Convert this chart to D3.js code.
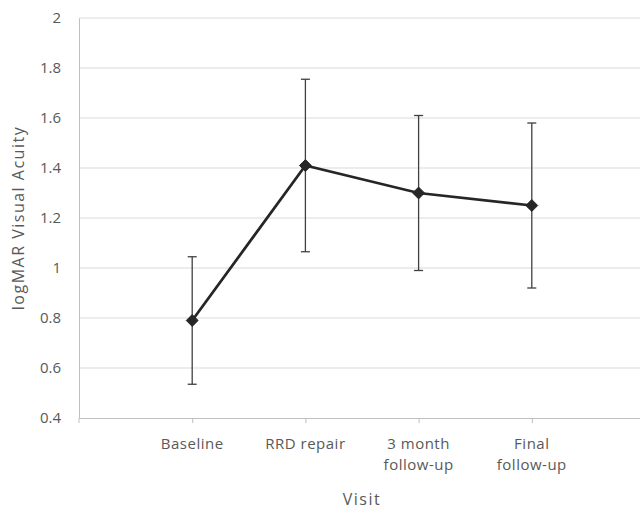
<!DOCTYPE html>
<html>
<head>
<meta charset="utf-8">
<script src="https://cdn.jsdelivr.net/npm/d3@7"></script>
<style>
	body { margin: 0; background: #fff; }
	text { font-family: "Open Sans", sans-serif; fill: #595959; }
</style>
</head>
<body>
<div id="idChart"></div>
<script>
var aVisits = [["Baseline"], ["RRD repair"], ["3 month", "follow-up"], ["Final", "follow-up"]];
var aMeans = [0.79, 1.41, 1.30, 1.25];
var aErrors = [0.255, 0.345, 0.31, 0.33];
var aYTicks = [0.4, 0.6, 0.8, 1, 1.2, 1.4, 1.6, 1.8, 2];

function DrawChart()
{
	var iWidth = 640;
	var iHeight = 509;
	var iLeft = 79, iRight = 645, iTop = 18, iBottom = 418;

	var aKeys = aVisits.map(function(a) { return a.join(" "); });

	var mySvg = d3.select("#idChart").append("svg")
		.attr("width", iWidth)
		.attr("height", iHeight);

	var xScale = d3.scalePoint()
		.domain(aKeys)
		.range([iLeft, iRight])
		.padding(1);

	var yScale = d3.scaleLinear()
		.domain([0.4, 2])
		.range([iBottom, iTop]);

	// gridlines
	mySvg.append("g").selectAll("line")
		.data(aYTicks.slice(1))
		.enter().append("line")
			.attr("x1", iLeft).attr("x2", iRight)
			.attr("y1", function(d) { return yScale(d); })
			.attr("y2", function(d) { return yScale(d); })
			.attr("stroke", "#d9d9d9")
			.attr("stroke-width", 1);

	// y axis
	var yAxis = mySvg.append("g")
		.attr("transform", "translate(" + iLeft + ",0)")
		.call(d3.axisLeft(yScale).tickValues(aYTicks).tickSize(0).tickPadding(18)
			.tickFormat(function(d) { return String(Math.round(d * 10) / 10); }));
	yAxis.select(".domain").attr("stroke", "#bfbfbf");
	yAxis.selectAll("text").style("font-size", "15px").attr("fill", "#595959");

	// x axis
	var xAxis = mySvg.append("g")
		.attr("transform", "translate(0," + iBottom + ")")
		.call(d3.axisBottom(xScale).tickSizeInner(5).tickSizeOuter(0).tickFormat(""));
	xAxis.select(".domain").attr("stroke", "#bfbfbf");
	xAxis.selectAll(".tick line").attr("stroke", "#bfbfbf");
	xAxis.append("line")
		.attr("x1", iLeft).attr("x2", iLeft).attr("y1", 0).attr("y2", 5)
		.attr("stroke", "#bfbfbf");

	var xLabels = mySvg.append("g").selectAll("text")
		.data(aVisits)
		.enter().append("text")
			.attr("x", function(d) { return xScale(d.join(" ")); })
			.attr("y", 449)
			.attr("text-anchor", "middle")
			.style("font-size", "15px")
			.style("letter-spacing", "0.5px");
	xLabels.selectAll("tspan")
		.data(function(d) { return d; })
		.enter().append("tspan")
			.attr("x", function() { return d3.select(this.parentNode).attr("x"); })
			.attr("dy", function(d, i) { return i ? 21 : 0; })
			.text(function(d) { return d; });

	// titles
	mySvg.append("text")
		.attr("x", (iLeft + iRight) / 2)
		.attr("y", 505)
		.attr("text-anchor", "middle")
		.style("font-size", "16px")
		.style("letter-spacing", "1.5px")
		.text("Visit");

	mySvg.append("text")
		.attr("transform", "translate(24," + (iTop + iBottom) / 2 + ") rotate(-90)")
		.attr("text-anchor", "middle")
		.style("font-size", "16px")
		.style("letter-spacing", "1.5px")
		.text("logMAR Visual Acuity");

	// error bars
	var myBars = mySvg.append("g").selectAll("g")
		.data(aMeans)
		.enter().append("g")
			.attr("stroke", "#404040")
			.attr("stroke-width", 1.3);
	myBars.append("line")
		.attr("x1", function(d, i) { return xScale(aKeys[i]); })
		.attr("x2", function(d, i) { return xScale(aKeys[i]); })
		.attr("y1", function(d, i) { return yScale(d - aErrors[i]); })
		.attr("y2", function(d, i) { return yScale(d + aErrors[i]); });
	[-1, 1].forEach(function(iSign) {
		myBars.append("line")
			.attr("x1", function(d, i) { return xScale(aKeys[i]) - 4.5; })
			.attr("x2", function(d, i) { return xScale(aKeys[i]) + 4.5; })
			.attr("y1", function(d, i) { return yScale(d + iSign * aErrors[i]); })
			.attr("y2", function(d, i) { return yScale(d + iSign * aErrors[i]); });
	});

	// mean line
	var myLine = d3.line()
		.x(function(d, i) { return xScale(aKeys[i]); })
		.y(function(d) { return yScale(d); });
	mySvg.append("path")
		.datum(aMeans)
		.attr("d", myLine)
		.attr("fill", "none")
		.attr("stroke", "#262626")
		.attr("stroke-width", 2.75);

	mySvg.append("g").selectAll("path")
		.data(aMeans)
		.enter().append("path")
			.attr("d", d3.symbol().type(d3.symbolDiamond2).size(90))
			.attr("transform", function(d, i) { return "translate(" + xScale(aKeys[i]) + "," + yScale(d) + ")"; })
			.attr("fill", "#262626")
			.attr("stroke", "#262626")
			.attr("stroke-width", 1);
}

DrawChart();
</script>
</body>
</html>
